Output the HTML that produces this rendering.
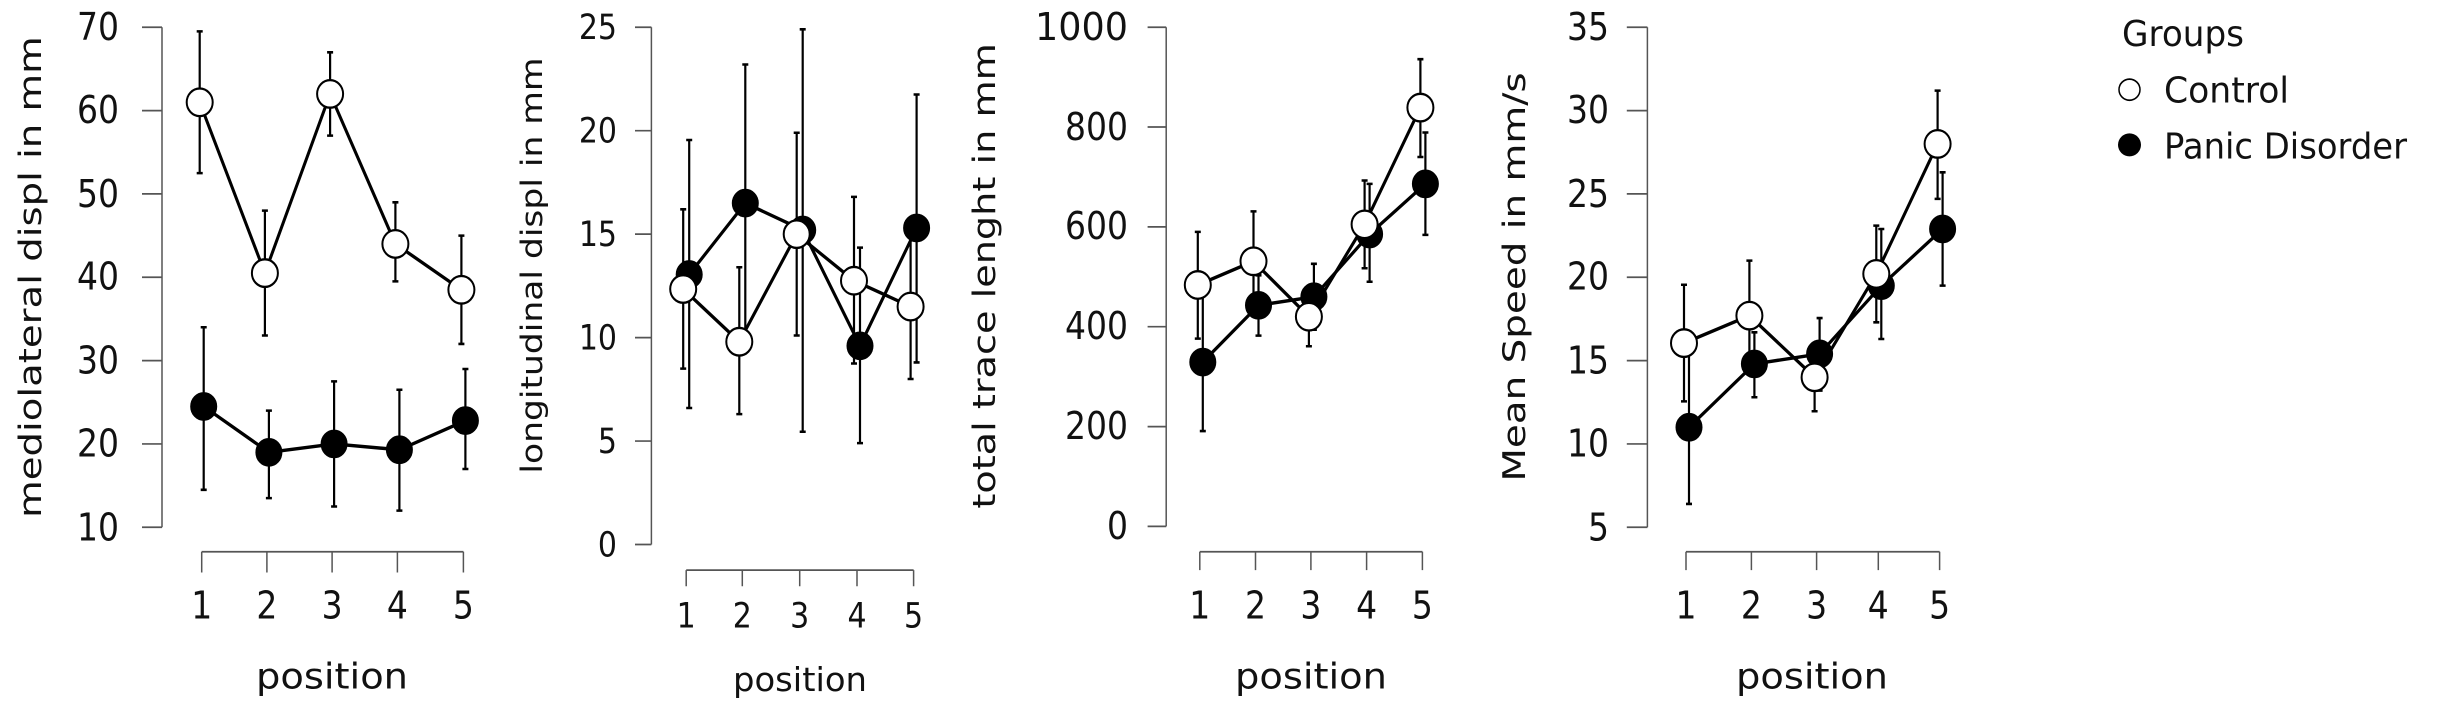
<!DOCTYPE html>
<html><head><meta charset="utf-8"><style>
html,body{margin:0;padding:0;background:#fff}
svg{display:block}
text{font-family:"DejaVu Sans","Liberation Sans",sans-serif;fill:#111}
.ax{stroke:#555;stroke-width:1.5;fill:none}
.ln{stroke:#000;stroke-width:3;fill:none;stroke-linejoin:round}
.eb{stroke:#000;stroke-width:2.2;fill:none}
.c{fill:#fff;stroke:#000;stroke-width:2}
.p{fill:#000;stroke:#000;stroke-width:1}
.t{font-size:31px}
.t2{font-size:29px}
.k{font-size:33px}
.k2{font-size:30px}
</style></head><body>
<svg width="2458" height="712" viewBox="0 0 2458 619.4" preserveAspectRatio="none" xmlns="http://www.w3.org/2000/svg">
<!-- Panel 1 -->
<path class="ax" d="M162 23.7V458.7M142 23.7H162M142 96.2H162M142 168.7H162M142 241.2H162M142 313.7H162M142 386.2H162M142 458.7H162"/>
<g class="k" text-anchor="end">
<text x="119" y="35">70</text><text x="119" y="107">60</text><text x="119" y="180">50</text><text x="119" y="252">40</text><text x="119" y="325">30</text><text x="119" y="397">20</text><text x="119" y="470">10</text></g>
<path class="ax" d="M201.7 480H463.4M201.7 480V498M266.9 480V498M332.1 480V498M397.4 480V498M463.4 480V498"/>
<g class="k" text-anchor="middle"><text x="201.7" y="538">1</text><text x="266.9" y="538">2</text><text x="332.1" y="538">3</text><text x="397.4" y="538">4</text><text x="463.4" y="538">5</text></g>
<text class="t" x="332" y="599" text-anchor="middle" textLength="152" lengthAdjust="spacingAndGlyphs">position</text>
<text class="t" transform="translate(41,241) rotate(-90)" text-anchor="middle" textLength="419" lengthAdjust="spacingAndGlyphs">mediolateral displ in mm</text>
<path class="eb" d="M199.7 27.3V150.6M196.7 27.3h6M196.7 150.6h6M264.9 183.2V291.9M261.9 183.2h6M261.9 291.9h6M330.1 45.5V118M327.1 45.5h6M327.1 118h6M395.4 176V244.8M392.4 176h6M392.4 244.8h6M461.4 205V299.2M458.4 205h6M458.4 299.2h6"/>
<path class="eb" d="M203.7 284.7V426.1M200.7 284.7h6M200.7 426.1h6M268.9 357.2V433.3M265.9 357.2h6M265.9 433.3h6M334.1 331.8V440.6M331.1 331.8h6M331.1 440.6h6M399.4 339.1V444.2M396.4 339.1h6M396.4 444.2h6M465.4 321V408M462.4 321h6M462.4 408h6"/>
<polyline class="ln" points="203.7,353.6 268.9,393.5 334.1,386.2 399.4,391.3 465.4,365.9"/>
<polyline class="ln" points="199.7,89 264.9,237.6 330.1,81.7 395.4,212.2 461.4,252.1"/>
<g class="p"><ellipse cx="203.7" cy="353.6" rx="13" ry="12"/><ellipse cx="268.9" cy="393.5" rx="13" ry="12"/><ellipse cx="334.1" cy="386.2" rx="13" ry="12"/><ellipse cx="399.4" cy="391.3" rx="13" ry="12"/><ellipse cx="465.4" cy="365.9" rx="13" ry="12"/></g>
<g class="c"><ellipse cx="199.7" cy="89" rx="13" ry="12"/><ellipse cx="264.9" cy="237.6" rx="13" ry="12"/><ellipse cx="330.1" cy="81.7" rx="13" ry="12"/><ellipse cx="395.4" cy="212.2" rx="13" ry="12"/><ellipse cx="461.4" cy="252.1" rx="13" ry="12"/></g>

<!-- Panel 2 -->
<path class="ax" d="M651.4 23.7V473.7M635 23.7H651.4M635 113.7H651.4M635 203.7H651.4M635 293.7H651.4M635 383.7H651.4M635 473.7H651.4"/>
<g class="k2" text-anchor="end">
<text x="617" y="34">25</text><text x="617" y="124">20</text><text x="617" y="214">15</text><text x="617" y="304">10</text><text x="617" y="394">5</text><text x="617" y="484">0</text></g>
<path class="ax" d="M686.2 496H913.6M686.2 496V510M742.3 496V510M799.7 496V510M857 496V510M913.6 496V510"/>
<g class="k2" text-anchor="middle"><text x="686.2" y="546">1</text><text x="742.3" y="546">2</text><text x="799.7" y="546">3</text><text x="857" y="546">4</text><text x="913.6" y="546">5</text></g>
<text class="t2" x="800" y="601" text-anchor="middle" textLength="134" lengthAdjust="spacingAndGlyphs">position</text>
<text class="t2" transform="translate(542,231) rotate(-90)" text-anchor="middle" textLength="362" lengthAdjust="spacingAndGlyphs">longitudinal displ in mm</text>
<path class="eb" d="M683.2 182.1V320.7M680.2 182.1h6M680.2 320.7h6M739.3 232.5V360.3M736.3 232.5h6M736.3 360.3h6M796.7 115.5V291.9M793.7 115.5h6M793.7 291.9h6M854 171.3V316.2M851 171.3h6M851 316.2h6M910.6 203.7V329.7M907.6 203.7h6M907.6 329.7h6"/>
<path class="eb" d="M689.2 121.8V354.9M686.2 121.8h6M686.2 354.9h6M745.3 56.1V297.3M742.3 56.1h6M742.3 297.3h6M802.7 25.5V375.6M799.7 25.5h6M799.7 375.6h6M860 215.4V385.5M857 215.4h6M857 385.5h6M916.6 82.2V315.3M913.6 82.2h6M913.6 315.3h6"/>
<polyline class="ln" points="689.2,238.8 745.3,176.7 802.7,200.1 860,300.9 916.6,198.3"/>
<polyline class="ln" points="683.2,251.4 739.3,297.3 796.7,203.7 854,244.2 910.6,266.7"/>
<g class="p"><ellipse cx="689.2" cy="238.8" rx="13" ry="12"/><ellipse cx="745.3" cy="176.7" rx="13" ry="12"/><ellipse cx="802.7" cy="200.1" rx="13" ry="12"/><ellipse cx="860" cy="300.9" rx="13" ry="12"/><ellipse cx="916.6" cy="198.3" rx="13" ry="12"/></g>
<g class="c"><ellipse cx="683.2" cy="251.4" rx="13" ry="12"/><ellipse cx="739.3" cy="297.3" rx="13" ry="12"/><ellipse cx="796.7" cy="203.7" rx="13" ry="12"/><ellipse cx="854" cy="244.2" rx="13" ry="12"/><ellipse cx="910.6" cy="266.7" rx="13" ry="12"/></g>

<!-- Panel 3 -->
<path class="ax" d="M1166.2 23.7V457.9M1147.6 23.7H1166.2M1147.6 110.5H1166.2M1147.6 197.4H1166.2M1147.6 284.2H1166.2M1147.6 371.1H1166.2M1147.6 457.9H1166.2"/>
<g class="k" text-anchor="end">
<text x="1128" y="35" textLength="93" lengthAdjust="spacingAndGlyphs">1000</text><text x="1128" y="122">800</text><text x="1128" y="208">600</text><text x="1128" y="295">400</text><text x="1128" y="382">200</text><text x="1128" y="469">0</text></g>
<path class="ax" d="M1199.8 480H1422.4M1199.8 480V496M1255.5 480V496M1310.9 480V496M1366.6 480V496M1422.4 480V496"/>
<g class="k" text-anchor="middle"><text x="1199.8" y="538">1</text><text x="1255.5" y="538">2</text><text x="1310.9" y="538">3</text><text x="1366.6" y="538">4</text><text x="1422.4" y="538">5</text></g>
<text class="t" x="1311" y="599" text-anchor="middle" textLength="152" lengthAdjust="spacingAndGlyphs">position</text>
<text class="t" transform="translate(995,240) rotate(-90)" text-anchor="middle" textLength="405" lengthAdjust="spacingAndGlyphs">total trace lenght in mm</text>
<path class="eb" d="M1197.8 201.7V294.6M1194.8 201.7h6M1194.8 294.6h6M1253.5 183.9V271.2M1250.5 183.9h6M1250.5 271.2h6M1308.9 249.5V301.2M1305.9 249.5h6M1305.9 301.2h6M1364.6 157V233.4M1361.6 157h6M1361.6 233.4h6M1420.4 51.5V136.6M1417.4 51.5h6M1417.4 136.6h6"/>
<path class="eb" d="M1202.8 253.8V375M1199.8 253.8h6M1199.8 375h6M1258.5 239.5V292M1255.5 239.5h6M1255.5 292h6M1313.9 229.5V286.8M1310.9 229.5h6M1310.9 286.8h6M1369.6 160V245.1M1366.6 160h6M1366.6 245.1h6M1425.4 115.3V204.3M1422.4 115.3h6M1422.4 204.3h6"/>
<polyline class="ln" points="1202.8,315 1258.5,265.6 1313.9,258.2 1369.6,203.6 1425.4,160"/>
<polyline class="ln" points="1197.8,247.9 1253.5,227.3 1308.9,275.5 1364.6,195.2 1420.4,93.6"/>
<g class="p"><ellipse cx="1202.8" cy="315" rx="13" ry="12"/><ellipse cx="1258.5" cy="265.6" rx="13" ry="12"/><ellipse cx="1313.9" cy="258.2" rx="13" ry="12"/><ellipse cx="1369.6" cy="203.6" rx="13" ry="12"/><ellipse cx="1425.4" cy="160" rx="13" ry="12"/></g>
<g class="c"><ellipse cx="1197.8" cy="247.9" rx="13" ry="12"/><ellipse cx="1253.5" cy="227.3" rx="13" ry="12"/><ellipse cx="1308.9" cy="275.5" rx="13" ry="12"/><ellipse cx="1364.6" cy="195.2" rx="13" ry="12"/><ellipse cx="1420.4" cy="93.6" rx="13" ry="12"/></g>

<!-- Panel 4 -->
<path class="ax" d="M1647.4 23.7V458.7M1626.8 23.7H1647.4M1626.8 96.2H1647.4M1626.8 168.7H1647.4M1626.8 241.2H1647.4M1626.8 313.7H1647.4M1626.8 386.2H1647.4M1626.8 458.7H1647.4"/>
<g class="k" text-anchor="end">
<text x="1609" y="35">35</text><text x="1609" y="107">30</text><text x="1609" y="180">25</text><text x="1609" y="252">20</text><text x="1609" y="325">15</text><text x="1609" y="397">10</text><text x="1609" y="470">5</text></g>
<path class="ax" d="M1686 480H1939.6M1686 480V496M1751.4 480V496M1816.6 480V496M1878.3 480V496M1939.6 480V496"/>
<g class="k" text-anchor="middle"><text x="1686" y="538">1</text><text x="1751.4" y="538">2</text><text x="1816.6" y="538">3</text><text x="1878.3" y="538">4</text><text x="1939.6" y="538">5</text></g>
<text class="t" x="1812" y="599" text-anchor="middle" textLength="152" lengthAdjust="spacingAndGlyphs">position</text>
<text class="t" transform="translate(1525,241) rotate(-90)" text-anchor="middle" textLength="356" lengthAdjust="spacingAndGlyphs">Mean Speed in mm/s</text>
<path class="eb" d="M1684 247.7V349.2M1681 247.7h6M1681 349.2h6M1749.4 226.7V321M1746.4 226.7h6M1746.4 321h6M1814.6 300.7V357.8M1811.6 300.7h6M1811.6 357.8h6M1876.3 196.3V280.4M1873.3 196.3h6M1873.3 280.4h6M1937.6 78.8V173M1934.6 78.8h6M1934.6 173h6"/>
<path class="eb" d="M1689 299.2V438.4M1686 299.2h6M1686 438.4h6M1754.4 289.1V345.6M1751.4 289.1h6M1751.4 345.6h6M1819.6 276.7V339.8M1816.6 276.7h6M1816.6 339.8h6M1881.3 199.2V294.9M1878.3 199.2h6M1878.3 294.9h6M1942.6 149.9V248.5M1939.6 149.9h6M1939.6 248.5h6"/>
<polyline class="ln" points="1689,371.7 1754.4,316.6 1819.6,307.9 1881.3,248.5 1942.6,199.2"/>
<polyline class="ln" points="1684,298.5 1749.4,274.6 1814.6,328.2 1876.3,238.3 1937.6,125.2"/>
<g class="p"><ellipse cx="1689" cy="371.7" rx="13" ry="12"/><ellipse cx="1754.4" cy="316.6" rx="13" ry="12"/><ellipse cx="1819.6" cy="307.9" rx="13" ry="12"/><ellipse cx="1881.3" cy="248.5" rx="13" ry="12"/><ellipse cx="1942.6" cy="199.2" rx="13" ry="12"/></g>
<g class="c"><ellipse cx="1684" cy="298.5" rx="13" ry="12"/><ellipse cx="1749.4" cy="274.6" rx="13" ry="12"/><ellipse cx="1814.6" cy="328.2" rx="13" ry="12"/><ellipse cx="1876.3" cy="238.3" rx="13" ry="12"/><ellipse cx="1937.6" cy="125.2" rx="13" ry="12"/></g>

<!-- Legend -->
<text class="t" x="2122" y="40" textLength="122" lengthAdjust="spacingAndGlyphs">Groups</text>
<ellipse cx="2129.5" cy="78" rx="10.5" ry="9.2" fill="#fff" stroke="#000" stroke-width="1.5"/>
<text class="t" x="2164" y="89" textLength="125" lengthAdjust="spacingAndGlyphs">Control</text>
<ellipse cx="2129.5" cy="126" rx="11.5" ry="10" fill="#000"/>
<text class="t" x="2164" y="138" textLength="243" lengthAdjust="spacingAndGlyphs">Panic Disorder</text>
</svg>
</body></html>
